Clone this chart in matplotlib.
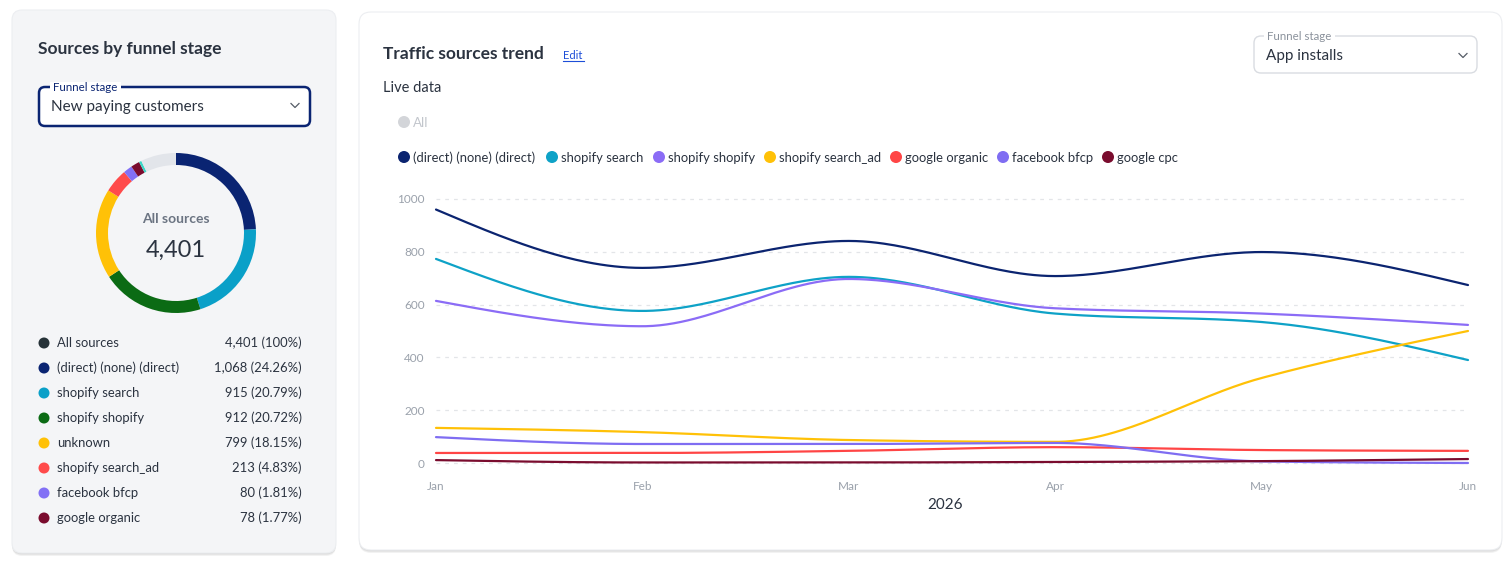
import numpy as np
import matplotlib
matplotlib.use("Agg")
import matplotlib.pyplot as plt
from matplotlib.patches import FancyBboxPatch, Circle

plt.rcParams['font.family'] = ['Lato', 'DejaVu Sans']

# donut: sources for "New paying customers"
donut_labels = ['(direct) (none) (direct)', 'shopify search', 'shopify shopify', 'unknown',
                'shopify search_ad', 'facebook bfcp', 'google organic', 'other small', 'rest']
donut_values = [1068, 915, 912, 799, 213, 80, 78, 22, 314]
donut_colors = ['#0a2472', '#0aa0c8', '#0b6b14', '#ffc107', '#ff4b4b', '#8270f5',
                '#7a0c2e', '#3ad6c6', '#e2e5ea']
total_sources = 4401

list_labels = ['All sources', '(direct) (none) (direct)', 'shopify search', 'shopify shopify',
               'unknown', 'shopify search_ad', 'facebook bfcp', 'google organic']
list_values = ['4,401 (100%)', '1,068 (24.26%)', '915 (20.79%)', '912 (20.72%)',
               '799 (18.15%)', '213 (4.83%)', '80 (1.81%)', '78 (1.77%)']
list_colors = ['#263238', '#0a2472', '#0aa0c8', '#0b6b14', '#ffc107', '#ff4b4b',
               '#8270f5', '#7a0c2e']

# trend: App installs per month
months = ['Jan', 'Feb', 'Mar', 'Apr', 'May', 'Jun']
series = {
    '(direct) (none) (direct)': [960, 739, 841, 708, 799, 674],
    'shopify search': [773, 576, 705, 566, 534, 390],
    'shopify shopify': [614, 518, 697, 586, 566, 523],
    'shopify search_ad': [133, 117, 87, 80, 322, 500],
    'google organic': [38, 38, 46, 60, 49, 46],
    'facebook bfcp': [98, 72, 72, 76, 6, 0],
    'google cpc': [11, 2, 2, 4, 7, 15],
}
series_colors = ['#0b2470', '#0ea2c7', '#8b6cf6', '#ffc107', '#ff4545', '#7f6df2', '#7a0c2e']
legend_x = [404, 552, 659, 770, 896, 1003, 1108]


def monotone_x(xs, ys, n=60):
    # same curve as d3.curveMonotoneX
    xs = np.asarray(xs, float)
    ys = np.asarray(ys, float)
    h = np.diff(xs)
    s = np.diff(ys) / h
    t = np.zeros(len(xs))
    for i in range(1, len(xs) - 1):
        p = (s[i - 1] * h[i] + s[i] * h[i - 1]) / (h[i - 1] + h[i])
        t[i] = (np.sign(s[i - 1]) + np.sign(s[i])) * min(abs(s[i - 1]), abs(s[i]), 0.5 * abs(p))
    t[0] = (3 * s[0] - t[1]) / 2
    t[-1] = (3 * s[-1] - t[-2]) / 2
    out_x, out_y = [], []
    for i in range(len(xs) - 1):
        u = np.linspace(0, 1, n)
        h00 = 2 * u**3 - 3 * u**2 + 1
        h10 = u**3 - 2 * u**2 + u
        h01 = -2 * u**3 + 3 * u**2
        h11 = u**3 - u**2
        out_x.extend(xs[i] + u * h[i])
        out_y.extend(h00 * ys[i] + h10 * h[i] * t[i] + h01 * ys[i + 1] + h11 * h[i] * t[i + 1])
    return np.array(out_x), np.array(out_y)


W, H = 1510, 561
fig = plt.figure(figsize=(W / 100, H / 100), dpi=100)
fig.patch.set_facecolor('white')

bg = fig.add_axes([0, 0, 1, 1])
bg.set_xlim(0, W)
bg.set_ylim(H, 0)
bg.axis('off')

# cards with soft shadow
for off, a in [(3, 0.05), (2, 0.05), (1, 0.06)]:
    bg.add_patch(FancyBboxPatch((12, 10 + off), 324, 543, boxstyle="round,pad=0,rounding_size=10",
                                fc='black', ec='none', alpha=a))
    bg.add_patch(FancyBboxPatch((359, 12 + off), 1143, 538, boxstyle="round,pad=0,rounding_size=12",
                                fc='black', ec='none', alpha=a))
bg.add_patch(FancyBboxPatch((12, 10), 324, 543, boxstyle="round,pad=0,rounding_size=10",
                            fc='#f4f5f7', ec='#eceef1', lw=0.8))
bg.add_patch(FancyBboxPatch((359, 12), 1143, 538, boxstyle="round,pad=0,rounding_size=12",
                            fc='white', ec='#eceef1', lw=0.8))

dark = '#2b3340'

# left card
bg.text(38, 49, 'Sources by funnel stage', fontsize=12.5, fontweight='bold', color=dark, va='center')
bg.add_patch(FancyBboxPatch((39, 87), 271, 39, boxstyle="round,pad=0,rounding_size=6",
                            fc='white', ec='#0a2472', lw=1.8))
bg.text(50, 87.5, ' Funnel stage ', fontsize=8.3, color='#0a2472', va='center',
        bbox=dict(fc='white', ec='none', pad=0.3))
bg.text(51, 107, 'New paying customers', fontsize=11, color=dark, va='center')
bg.plot([291, 295, 299], [103.5, 107.5, 103.5], color='#555c66', lw=0.9)

for i, (lab, val, col) in enumerate(zip(list_labels, list_values, list_colors)):
    y = 343 + 25 * i
    bg.add_patch(Circle((44, y), 5.5, fc=col, ec='none'))
    bg.text(57, y, lab, fontsize=9.4, color=dark, va='center')
    bg.text(302, y, val, fontsize=9.4, color=dark, va='center', ha='right')

# donut
dax = fig.add_axes([96 / W, (H - 313) / H, 160 / W, 160 / H])
dax.pie(donut_values, colors=donut_colors, startangle=90, counterclock=False,
        radius=1, wedgeprops=dict(width=0.15, edgecolor='none'))
dax.set_xlim(-1, 1)
dax.set_ylim(-1, 1)
dax.axis('off')
bg.text(176, 219, 'All sources', fontsize=10, fontweight='bold', color='#6b7482', ha='center', va='center')
bg.text(176, 250, f'{total_sources:,}', fontsize=17, color=dark, ha='center', va='center')

# right card header
bg.text(383, 54, 'Traffic sources trend', fontsize=12.5, fontweight='bold', color=dark, va='center')
bg.text(563, 55, 'Edit', fontsize=8, color='#1d4ed8', va='center')
bg.plot([563, 583.5], [61, 61], color='#1d4ed8', lw=0.8)
bg.text(383, 88, 'Live data', fontsize=10.5, color=dark, va='center')

bg.add_patch(FancyBboxPatch((1254, 36), 223, 37, boxstyle="round,pad=0,rounding_size=7",
                            fc='white', ec='#d9dce1', lw=1))
bg.text(1264, 36, ' Funnel stage ', fontsize=8.3, color='#8b929c', va='center',
        bbox=dict(fc='white', ec='none', pad=0.3))
bg.text(1266, 56, 'App installs', fontsize=11, color=dark, va='center')
bg.plot([1459, 1463, 1467], [53.5, 57.5, 53.5], color='#555c66', lw=0.9)

# legend
bg.add_patch(Circle((404, 122), 6, fc='#d3d5d9', ec='none'))
bg.text(413, 123, 'All', fontsize=9.6, color='#c2c6cc', va='center')
for (name, vals), col, lx in zip(series.items(), series_colors, legend_x):
    bg.add_patch(Circle((lx, 157), 6, fc=col, ec='none'))
    bg.text(lx + 9, 158, name, fontsize=9.4, color=dark, va='center')

# trend chart
ymin, ymax = -26.5, 1034
ax = fig.add_axes([436 / W, (H - 470) / H, 1032 / W, 280 / H])
ax.patch.set_alpha(0)
xi = np.arange(len(months))
for (name, vals), col in zip(series.items(), series_colors):
    sx, sy = monotone_x(xi, vals)
    ax.plot(sx, sy, color=col, lw=1.6, solid_capstyle='round', clip_on=False)
ax.set_xlim(0, len(months) - 1)
ax.set_ylim(ymin, ymax)
ax.set_yticks(np.arange(0, 1001, 200))
ax.set_xticks(xi)
ax.set_xticklabels(months)
ax.grid(axis='y', color='#e3e5e8', linestyle=(0, (3, 4)), lw=0.9)
ax.set_axisbelow(True)
for sp in ax.spines.values():
    sp.set_visible(False)
ax.tick_params(length=0, colors='#9aa1ab', labelsize=8.5)
ax.tick_params(axis='y', pad=8)
ax.tick_params(axis='x', pad=8)
bg.text(945, 505, '2026', fontsize=11, color=dark, ha='center', va='center')

fig.savefig('out.png', dpi=100, facecolor='white')
